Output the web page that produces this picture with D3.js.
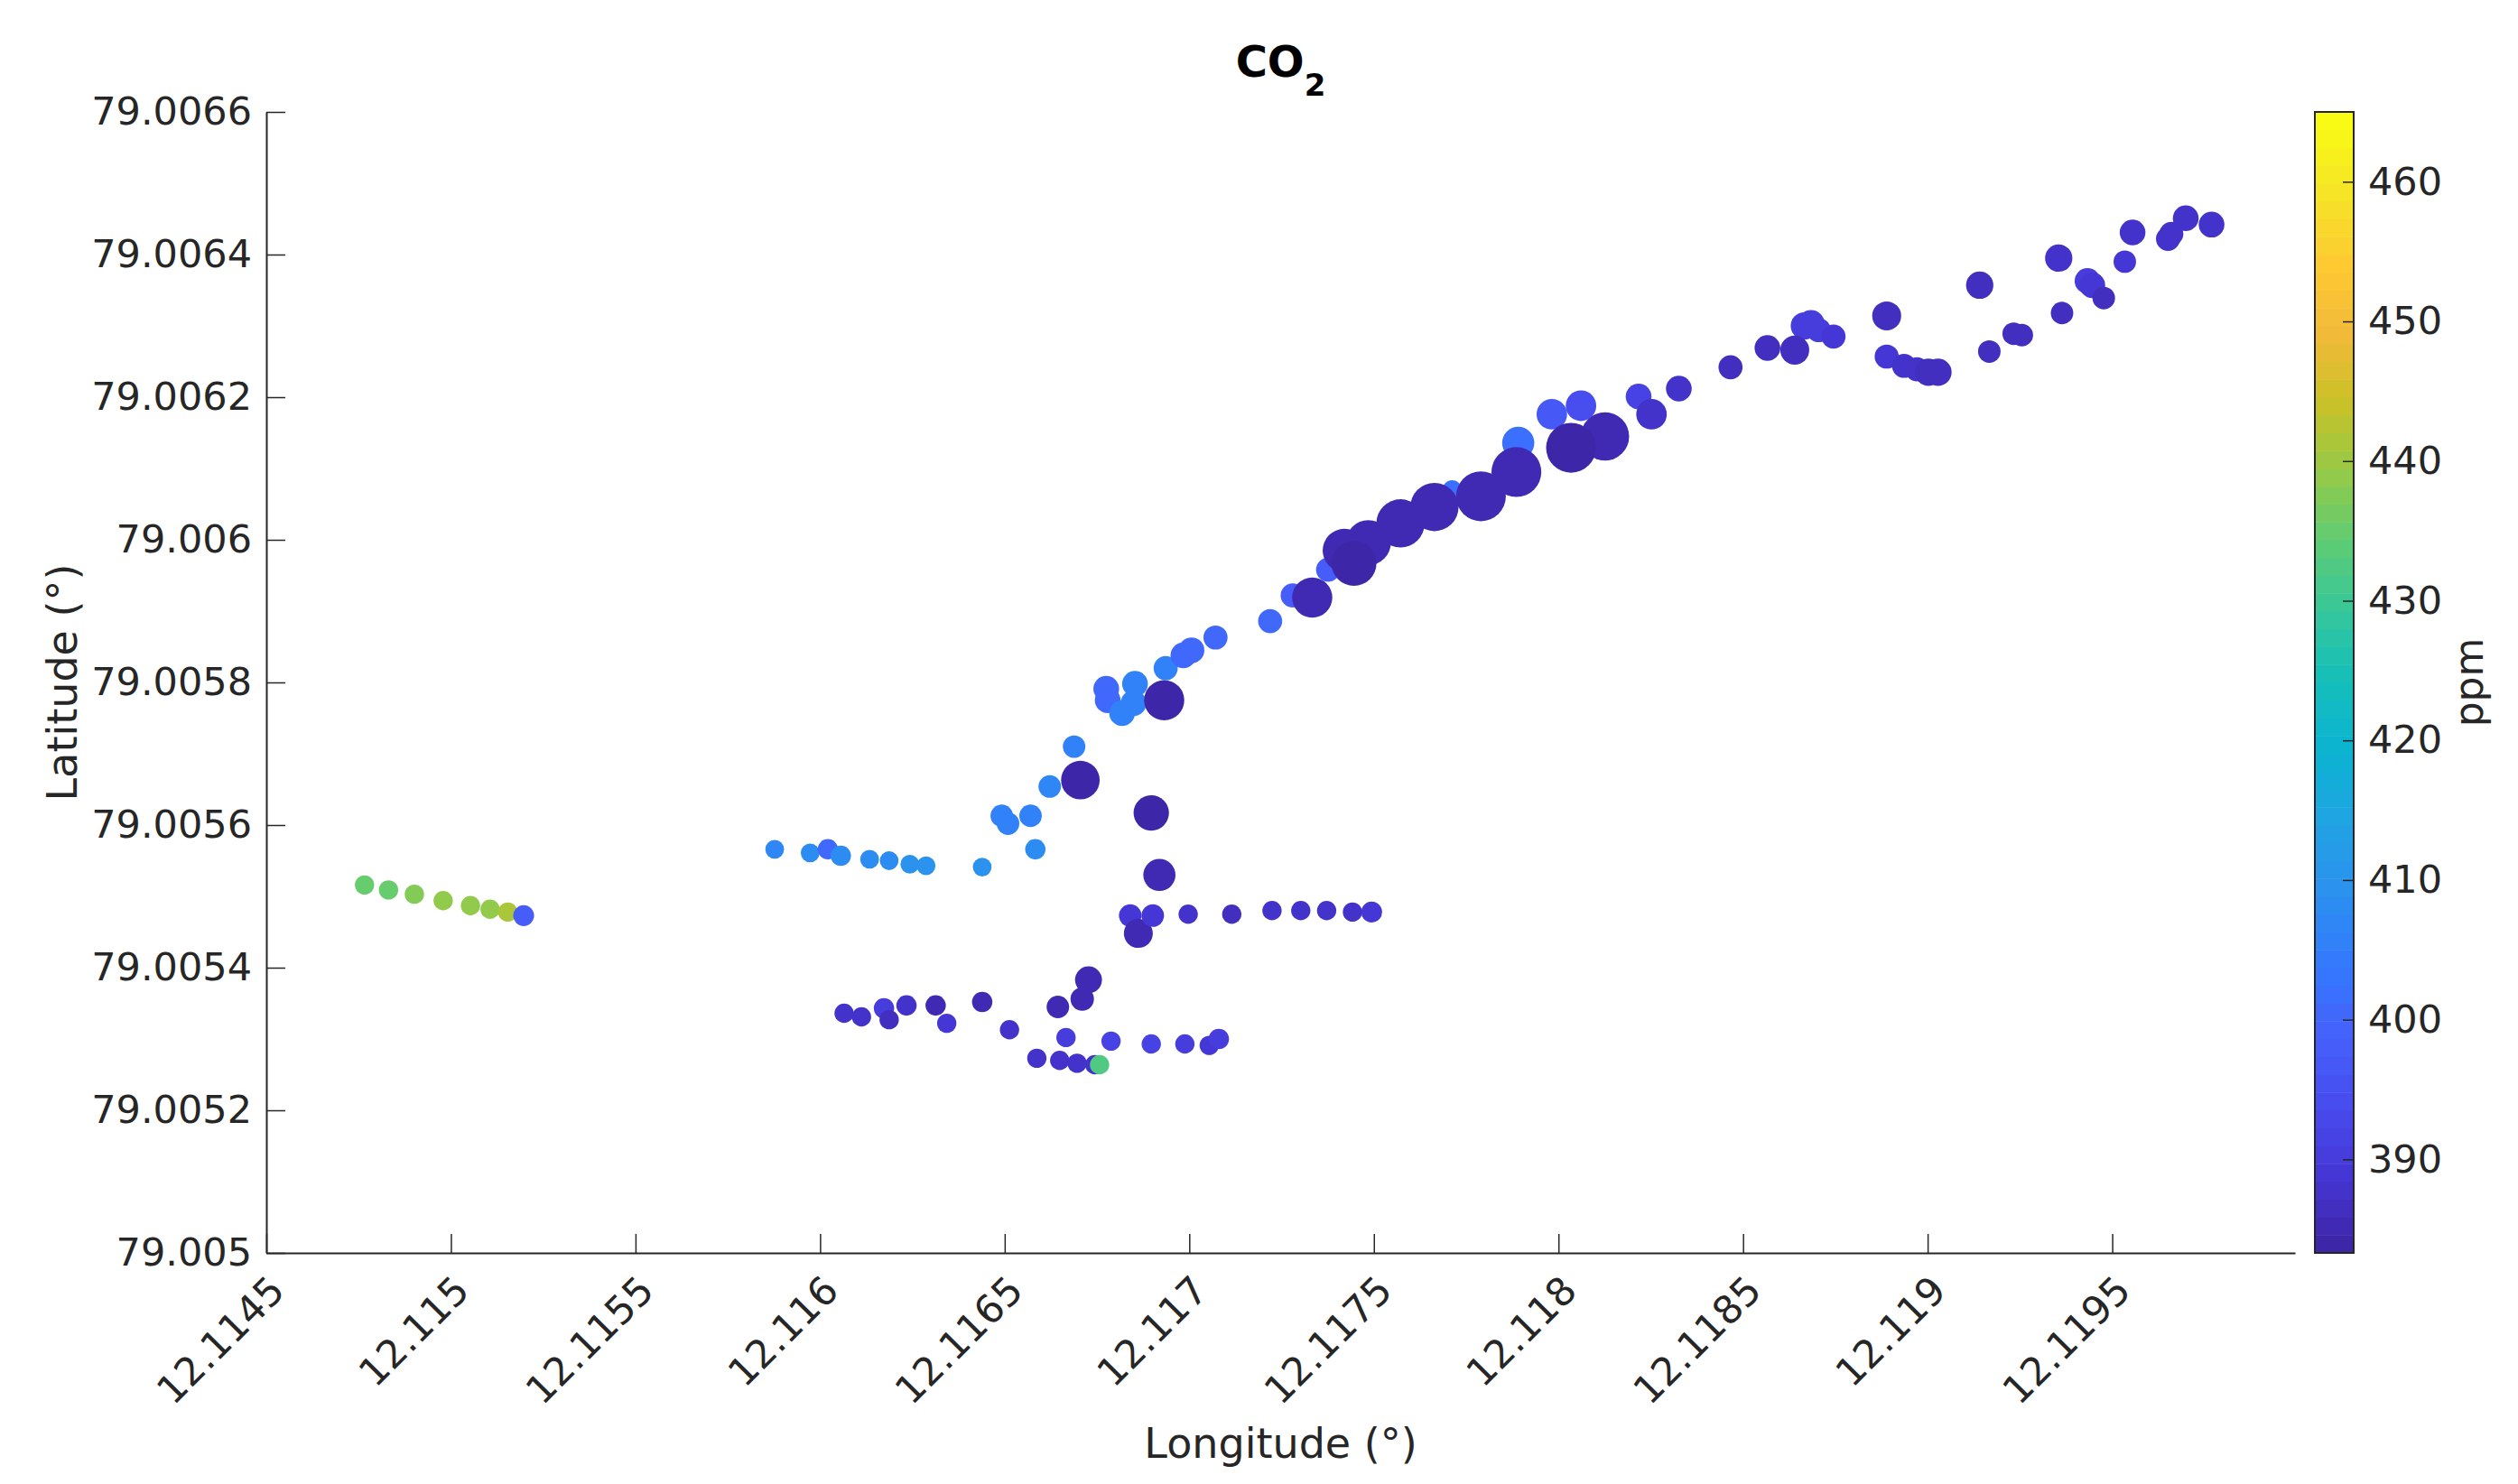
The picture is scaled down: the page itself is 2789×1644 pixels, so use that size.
<!DOCTYPE html>
<html>
<head>
<meta charset="utf-8">
<script src="https://cdn.jsdelivr.net/npm/d3@7"></script>
<style>
  html, body { margin: 0; padding: 0; background: #fff; }
  svg { display: block; font-family: "DejaVu Sans", sans-serif; }
</style>
</head>
<body>
<svg width="2789" height="1644"></svg>
<script>
// Data: position, CO2 (ppm) and the marker size variable
var lon = [
	12.114766, 12.114831, 12.114901, 12.114979, 12.115053, 12.115106, 12.115154, 12.115197,
	12.115877, 12.115973, 12.116021, 12.116056, 12.116134, 12.116187, 12.116243, 12.116287, 12.116439, 12.116583,
	12.116065, 12.116112, 12.116173, 12.116187, 12.116234, 12.116313, 12.116343, 12.116439, 12.116513, 12.116644,
	12.116710, 12.116727, 12.116666, 12.116788, 12.116897, 12.116988, 12.117054, 12.117080, 12.116587, 12.116649,
	12.116696, 12.116744, 12.116757,
	12.116840, 12.116862, 12.116901, 12.116997, 12.117115, 12.117224, 12.117302, 12.117372, 12.117442, 12.117494,
	12.116492, 12.116509, 12.116570, 12.116622, 12.116688, 12.116705, 12.116897, 12.116919,
	12.116775, 12.116779, 12.116818, 12.116849, 12.116853, 12.116936, 12.116932,
	12.116984, 12.117006, 12.117071, 12.117219, 12.117280, 12.117333, 12.117376, 12.117420, 12.117485, 12.117446,
	12.117572, 12.117712, 12.117664, 12.117790, 12.117891, 12.117886, 12.117982, 12.118061, 12.118126, 12.118034,
	12.118217, 12.118252, 12.118326, 12.118466, 12.118566, 12.118666, 12.118684, 12.118705, 12.118745, 12.118640,
	12.118889, 12.118889, 12.118936, 12.118971, 12.119002, 12.119028, 12.119141, 12.119167, 12.119233, 12.119255,
	12.119364, 12.119355, 12.119433, 12.119446, 12.119477, 12.119534, 12.119555, 12.119651, 12.119660, 12.119699,
	12.119769
];
var lat = [
	79.005516, 79.005509, 79.005503, 79.005494, 79.005487, 79.005482, 79.005478, 79.005473,
	79.005566, 79.005561, 79.005566, 79.005557, 79.005552, 79.005550, 79.005545, 79.005543, 79.005541, 79.005566,
	79.005336, 79.005331, 79.005343, 79.005327, 79.005347, 79.005347, 79.005322, 79.005352, 79.005313, 79.005345,
	79.005356, 79.005383, 79.005302, 79.005297, 79.005293, 79.005293, 79.005291, 79.005300, 79.005273, 79.005270,
	79.005266, 79.005264, 79.005264,
	79.005473, 79.005448, 79.005473, 79.005475, 79.005475, 79.005480, 79.005480, 79.005480, 79.005478, 79.005478,
	79.005613, 79.005602, 79.005613, 79.005654, 79.005710, 79.005663, 79.005617, 79.005530,
	79.005791, 79.005775, 79.005757, 79.005771, 79.005798, 79.005820, 79.005775,
	79.005838, 79.005845, 79.005863, 79.005886, 79.005922, 79.005919, 79.005958, 79.005985, 79.005996, 79.005967,
	79.006023, 79.006070, 79.006046, 79.006061, 79.006136, 79.006095, 79.006176, 79.006188, 79.006145, 79.006129,
	79.006201, 79.006176, 79.006212, 79.006242, 79.006269, 79.006300, 79.006303, 79.006294, 79.006285, 79.006266,
	79.006314, 79.006257, 79.006244, 79.006239, 79.006235, 79.006235, 79.006357, 79.006264, 79.006289, 79.006287,
	79.006318, 79.006395, 79.006363, 79.006357, 79.006339, 79.006390, 79.006431, 79.006422, 79.006429, 79.006451,
	79.006442
];
var co2 = [
	434.7, 435.6, 438.0, 439.3, 439.0, 439.3, 442.0, 397.8,
	406.5, 408.0, 401.0, 408.0, 408.5, 408.5, 409.0, 409.0, 409.7, 408.0,
	388.0, 388.0, 390.0, 387.0, 387.5, 385.5, 388.5, 385.5, 388.0, 385.5,
	385.5, 385.0, 390.0, 391.0, 391.0, 390.0, 389.5, 390.0, 388.0, 388.0,
	388.0, 388.0, 432.0,
	388.5, 385.0, 389.5, 388.0, 387.0, 388.0, 388.0, 388.0, 388.0, 389.5,
	406.0, 406.0, 406.0, 406.5, 405.5, 384.5, 384.5, 385.0,
	400.0, 400.0, 405.5, 405.5, 405.5, 405.5, 384.5,
	401.0, 401.0, 401.0, 401.0, 398.0, 385.0, 398.5, 385.0, 385.0, 384.5,
	385.0, 402.0, 385.0, 385.0, 401.5, 385.0, 397.0, 394.0, 385.5, 384.5,
	392.0, 387.5, 387.5, 387.0, 387.0, 390.0, 390.0, 390.0, 389.5, 387.0,
	387.0, 389.0, 388.0, 388.0, 387.0, 387.0, 386.5, 387.0, 387.0, 387.0,
	387.0, 388.0, 390.0, 389.0, 386.5, 389.0, 388.0, 388.0, 388.0, 388.0,
	388.0
];
var sizeVal = [
	36, 36, 36, 36, 36, 36, 36, 42,
	34, 34, 40, 40, 34, 34, 34, 34, 34, 40,
	36, 36, 40, 36, 40, 40, 36, 40, 36, 49,
	53, 70, 36, 36, 36, 36, 36, 40, 36, 36,
	36, 36, 36,
	49, 81, 49, 36, 36, 36, 36, 36, 36, 42,
	49, 49, 49, 49, 49, 144, 121, 100,
	64, 64, 64, 64, 64, 56, 156,
	64, 64, 56, 56, 56, 156, 56, 182, 196, 196,
	225, 36, 225, 240, 100, 240, 90, 90, 225, 240,
	64, 90, 64, 56, 64, 72, 72, 56, 56, 81,
	81, 56, 56, 56, 72, 72, 72, 49, 49, 49,
	49, 72, 64, 64, 49, 49, 64, 56, 56, 64,
	64
];

var xTicks = [12.1145, 12.115, 12.1155, 12.116, 12.1165, 12.117, 12.1175, 12.118, 12.1185, 12.119, 12.1195];
var yTicks = [79.005, 79.0052, 79.0054, 79.0056, 79.0058, 79.006, 79.0062, 79.0064, 79.0066];
var cbTicks = [390, 400, 410, 420, 430, 440, 450, 460];
var cLimits = [383.3, 465];

// parula, sampled every 16 of 256 entries
var parula = ["#3e26a8", "#4537d5", "#484cf0", "#4562fc", "#337afd", "#2c90ef", "#21a3e3", "#0bb3d2",
	"#14bebb", "#35c79b", "#5ecc74", "#96ca48", "#cac128", "#f3ba39", "#fdcb32", "#f5e526", "#f9fb14"];

var svg = d3.select("svg"),
	width = +svg.attr("width"),
	height = +svg.attr("height");

var axisColor = "#262626";
var plotLeft = 295, plotRight = 2542, plotTop = 124, plotBottom = 1388;

var x = d3.scaleLinear().domain([12.1145, 12.119995]).range([plotLeft, plotRight]);
var y = d3.scaleLinear().domain([79.005, 79.0066]).range([plotBottom, plotTop]);
var r = d3.scaleSqrt().domain([0, 240]).range([0, 27.6]);

// 64 level colormap like the default figure colormap
var interp = d3.piecewise(d3.interpolateRgb, parula);
var colors = d3.range(64).map(function (i) { return interp(i / 63); });
var color = d3.scaleQuantize().domain(cLimits).range(colors);

var points = lon.map(function (d, i) {
	return { lon: d, lat: lat[i], co2: co2[i], s: sizeVal[i] };
});

// markers
svg.append("g")
	.selectAll("circle")
	.data(points)
	.enter()
	.append("circle")
	.attr("cx", function (d) { return x(d.lon); })
	.attr("cy", function (d) { return y(d.lat); })
	.attr("r", function (d) { return r(d.s); })
	.attr("fill", function (d) { return color(d.co2); });

// x axis
var fmt = function (d) { return String(+d.toFixed(4)); };
var gx = svg.append("g")
	.attr("transform", "translate(0," + plotBottom + ")")
	.call(d3.axisBottom(x).tickValues(xTicks).tickFormat(fmt).tickSizeInner(-21).tickSizeOuter(0));
gx.selectAll("text")
	.attr("x", 0)
	.attr("y", 0)
	.attr("dy", "0.73em")
	.attr("text-anchor", "end")
	.attr("transform", "translate(0,22) rotate(-45)");

// y axis
var gy = svg.append("g")
	.attr("transform", "translate(" + plotLeft + ",0)")
	.call(d3.axisLeft(y).tickValues(yTicks).tickFormat(fmt).tickSizeInner(-21).tickSizeOuter(0).tickPadding(16));

[gx, gy].forEach(function (g) {
	g.attr("font-size", 43).attr("font-family", "DejaVu Sans");
	g.selectAll("text").attr("fill", axisColor);
	g.selectAll("line").attr("stroke", axisColor).attr("stroke-width", 1.5);
	g.select(".domain").attr("stroke", axisColor).attr("stroke-width", 2);
});

// colorbar
var cbLeft = 2564, cbRight = 2607;
var cy = d3.scaleLinear().domain(cLimits).range([plotBottom, plotTop]);
var cb = svg.append("g");
cb.selectAll("rect.band")
	.data(colors)
	.enter()
	.append("rect")
	.attr("class", "band")
	.attr("x", cbLeft)
	.attr("width", cbRight - cbLeft)
	.attr("y", function (d) { return cy(color.invertExtent(d)[1]); })
	.attr("height", function (d) { var e = color.invertExtent(d); return cy(e[0]) - cy(e[1]) + 0.5; })
	.attr("fill", function (d) { return d; });
cb.append("rect")
	.attr("x", cbLeft)
	.attr("y", plotTop)
	.attr("width", cbRight - cbLeft)
	.attr("height", plotBottom - plotTop)
	.attr("fill", "none")
	.attr("stroke", axisColor)
	.attr("stroke-width", 2);
var gc = svg.append("g")
	.attr("transform", "translate(" + cbRight + ",0)")
	.call(d3.axisRight(cy).tickValues(cbTicks).tickSizeInner(-12).tickSizeOuter(0).tickPadding(16));
gc.select(".domain").remove();
gc.attr("font-size", 43).attr("font-family", "DejaVu Sans");
gc.selectAll("text").attr("fill", axisColor);
gc.selectAll("line").attr("stroke", axisColor).attr("stroke-width", 1.5);

// labels
svg.append("text")
	.attr("x", (plotLeft + plotRight) / 2)
	.attr("y", 1615)
	.attr("text-anchor", "middle")
	.attr("font-size", 46)
	.attr("fill", axisColor)
	.text("Longitude (°)");

svg.append("text")
	.attr("transform", "translate(85," + (plotTop + plotBottom) / 2 + ") rotate(-90)")
	.attr("text-anchor", "middle")
	.attr("font-size", 46)
	.attr("fill", axisColor)
	.text("Latitude (°)");

svg.append("text")
	.attr("transform", "translate(2750," + (plotTop + plotBottom) / 2 + ") rotate(-90)")
	.attr("text-anchor", "middle")
	.attr("font-size", 44)
	.attr("fill", axisColor)
	.text("ppm");

var title = svg.append("text")
	.attr("x", (plotLeft + plotRight) / 2)
	.attr("y", 85)
	.attr("text-anchor", "middle")
	.attr("font-size", 48)
	.attr("font-weight", "bold")
	.attr("fill", "#000");
title.append("tspan").text("CO");
title.append("tspan").attr("dy", 21).attr("font-size", 34).text("2");
</script>
</body>
</html>
